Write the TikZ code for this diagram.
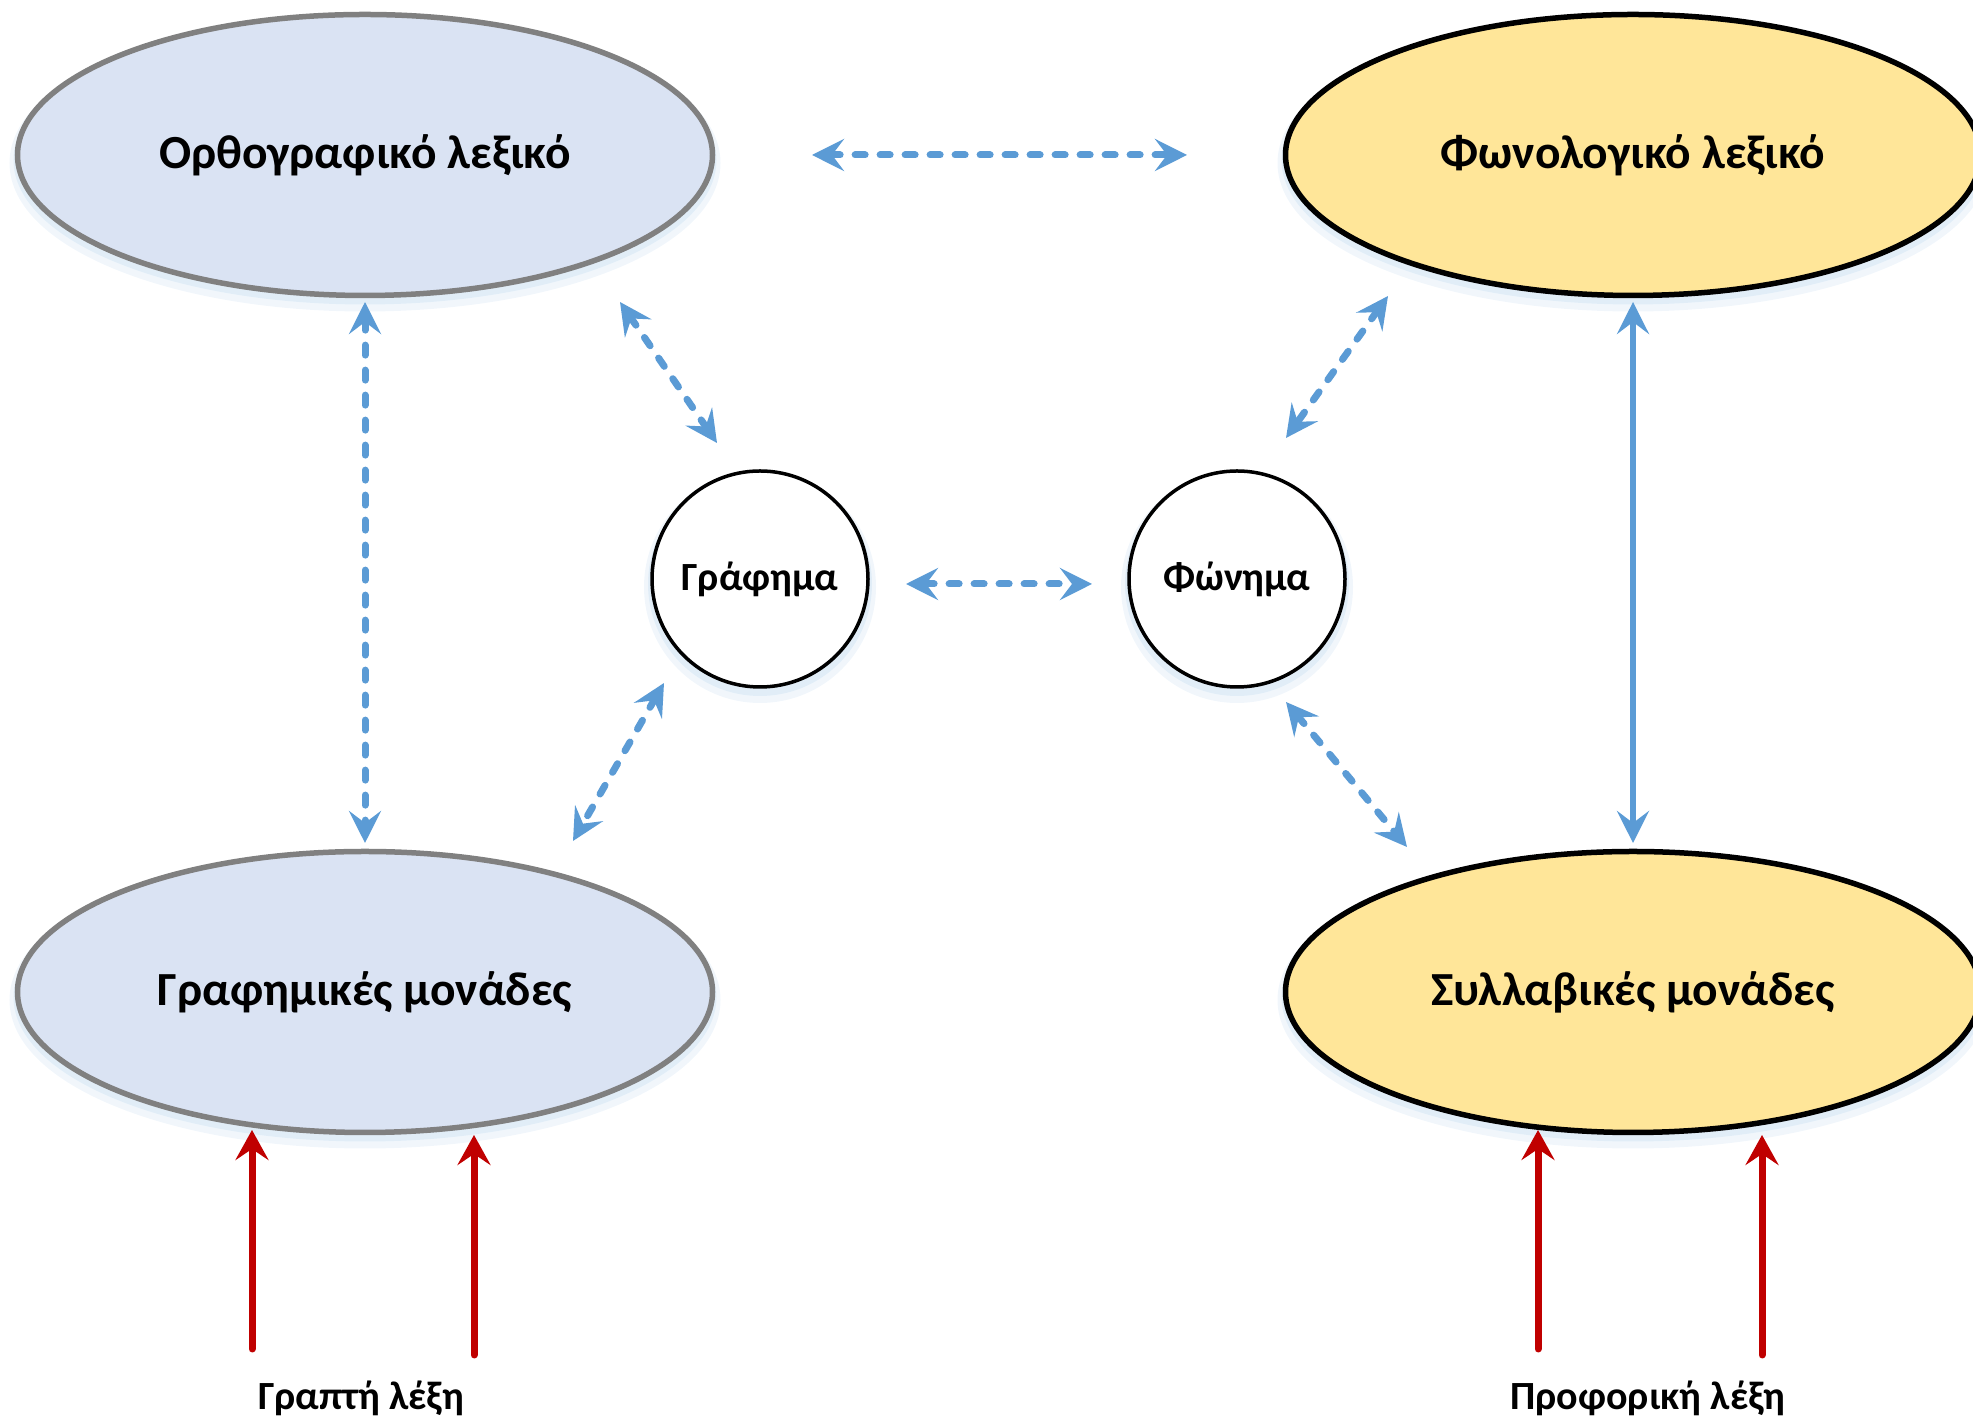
\documentclass[tikz,border=0pt]{standalone}
\usepackage{fontspec}
\setmainfont{Carlito}
\usetikzlibrary{arrows.meta,shapes.geometric}
\definecolor{lexblue}{HTML}{DAE3F3}
\definecolor{lexyellow}{HTML}{FFE699}
\definecolor{linkblue}{HTML}{5B9BD5}
\definecolor{inred}{HTML}{C00000}
\definecolor{rimgray}{HTML}{808080}
\definecolor{glow}{HTML}{BDD7EE}
\begin{document}
\begin{tikzpicture}[x=1pt,y=1pt,
  softshadow/.style={
    preaction={draw=glow, line width=16pt, opacity=0.22, transform canvas={yshift=-8pt}},
    preaction={draw=glow, line width=8pt, opacity=0.3, transform canvas={yshift=-5pt}}},
  lexicon/.style={ellipse, minimum width=695pt, minimum height=281pt, inner sep=0pt,
    line width=5.5pt, softshadow, font=\fontsize{47.5}{52}\selectfont\bfseries},
  grayrim/.style={lexicon, draw=rimgray, fill=lexblue},
  blackrim/.style={lexicon, draw=black, fill=lexyellow},
  unitnode/.style={circle, minimum size=216pt, inner sep=0pt, draw=black, line width=3.5pt,
    fill=white, softshadow, font=\fontsize{40}{44}\selectfont\bfseries},
  wordlabel/.style={font=\fontsize{40}{44}\selectfont\bfseries, inner sep=0pt, anchor=base},
  link/.style={draw=linkblue, line width=7pt, dash pattern=on 10pt off 15pt, line cap=round,
    {Stealth[length=32pt, width=32pt, inset=12pt]}-{Stealth[length=32pt, width=32pt, inset=12pt]}},
  solidlink/.style={draw=linkblue, line width=6pt,
    {Stealth[length=32pt, width=32pt, inset=12pt]}-{Stealth[length=32pt, width=32pt, inset=12pt]}},
  inputarrow/.style={draw=inred, line width=7pt, line cap=round,
    -{Stealth[length=30pt, width=33pt, inset=11pt]}}]
\useasboundingbox (0,0) rectangle (1973,1418);
\clip (0,0) rectangle (1973,1418);

% lexicons and units
\node[grayrim]  (ortho) at (365,1263) {Ορθογραφικό λεξικό};
\node[blackrim] (phono) at (1633,1263) {Φωνολογικό λεξικό};
\node[grayrim]  (graph) at (365,426) {Γραφημικές μονάδες};
\node[blackrim] (syll)  at (1633,426) {Συλλαβικές μονάδες};
\node[unitnode] (grafima) at (760,839) {Γράφημα};
\node[unitnode] (fonima)  at (1237,839) {Φώνημα};

% connector end points
\coordinate (orthoE)  at (812,1263);
\coordinate (phonoW)  at (1187,1263);
\coordinate (orthoS)  at (365,1116);
\coordinate (graphN)  at (365,575);
\coordinate (orthoSE) at (620,1116);
\coordinate (grafNW)  at (717,975);
\coordinate (grafSW)  at (664,735);
\coordinate (graphNE) at (573,577);
\coordinate (grafE)   at (906,834);
\coordinate (fonW)    at (1092,834);
\coordinate (phonoSW) at (1388,1122);
\coordinate (fonNE)   at (1286,980);
\coordinate (fonSE)   at (1286,716);
\coordinate (syllNW)  at (1407,571);
\coordinate (phonoS)  at (1633,1116);
\coordinate (syllN)   at (1633,575);

\draw[link] (orthoE) -- (phonoW);
\draw[link] (orthoS) -- (graphN);
\draw[link] (orthoSE) -- (grafNW);
\draw[link] (grafSW) -- (graphNE);
\draw[link] (grafE) -- (fonW);
\draw[link] (phonoSW) -- (fonNE);
\draw[link] (fonSE) -- (syllNW);
\draw[solidlink] (phonoS) -- (syllN);

% written and spoken word input
\node[wordlabel] (written) at (361,8) {Γραπτή λέξη};
\node[wordlabel] (spoken)  at (1648,8) {Προφορική λέξη};
\coordinate (w1) at (252,69);  \coordinate (w1t) at (252,288);
\coordinate (w2) at (474,63);  \coordinate (w2t) at (474,283);
\coordinate (s1) at (1538,69); \coordinate (s1t) at (1538,288);
\coordinate (s2) at (1762,63); \coordinate (s2t) at (1762,283);
\draw[inputarrow] (w1) -- (w1t);
\draw[inputarrow] (w2) -- (w2t);
\draw[inputarrow] (s1) -- (s1t);
\draw[inputarrow] (s2) -- (s2t);
\end{tikzpicture}
\end{document}
